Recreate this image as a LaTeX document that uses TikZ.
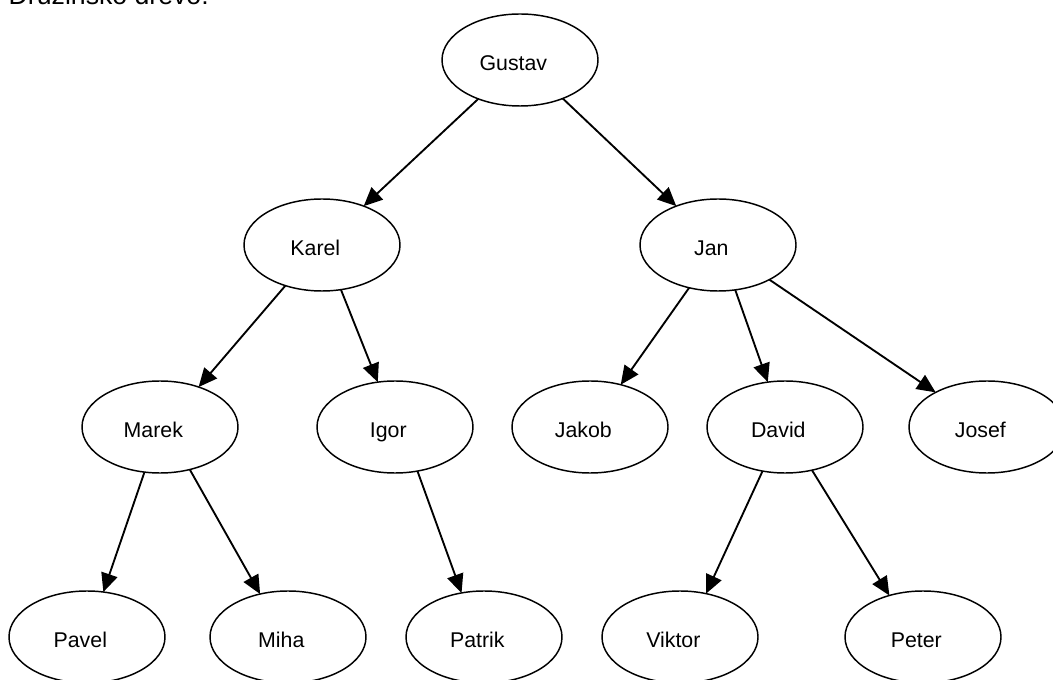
\documentclass[tikz,border=0pt]{standalone}
\usepackage{fontspec}
\setmainfont{Liberation Sans}
\usetikzlibrary{arrows.meta,shapes.geometric}

\begin{document}
\begin{tikzpicture}[x=0.75pt,y=-0.75pt,
   person/.style={draw=black,line width=1.1pt,ellipse,minimum width=117pt,minimum height=69pt,
     inner sep=0pt,outer sep=0pt,font=\fontsize{16}{19}\selectfont,
     text height=16pt,text depth=0pt,execute at begin node=\kern-10pt},
   child/.style={draw=black,line width=1.4pt,-{Triangle[length=14pt,width=12.5pt]}}]
   \useasboundingbox (0,0) rectangle (1053,680);
   \node[anchor=base west,font=\fontsize{20}{24}\selectfont] (title) at (4,5) {Družinsko drevo:};
   % generations
   \node[person] (gustav) at (520,60) {Gustav};
   \node[person] (karel) at (322,245) {Karel};
   \node[person] (jan) at (718,245) {Jan};
   \node[person] (marek) at (160,427) {Marek};
   \node[person] (igor) at (395,427) {Igor};
   \node[person] (jakob) at (590,427) {Jakob};
   \node[person] (david) at (785,427) {David};
   \node[person] (josef) at (987,427) {Josef};
   \node[person] (pavel) at (87,637) {Pavel};
   \node[person] (miha) at (288,637) {Miha};
   \node[person] (patrik) at (484,637) {Patrik};
   \node[person] (viktor) at (680,637) {Viktor};
   \node[person] (peter) at (923,637) {Peter};
   % links
   \draw[child] (gustav.223) -- (karel.43);
   \draw[child] (gustav.318) -- (jan.137);
   \draw[child] (karel.228) -- (marek.46);
   \draw[child] (karel.293) -- (igor.111);
   \draw[child] (jan.236) -- (jakob.54);
   \draw[child] (jan.291) -- (david.111);
   \draw[child] (jan.326) -- (josef.146);
   \draw[child] (marek.251) -- (pavel.70);
   \draw[child] (marek.305) -- (miha.123);
   \draw[child] (igor.297) -- (patrik.117);
   \draw[child] (david.243) -- (viktor.59);
   \draw[child] (david.302) -- (peter.129);
\end{tikzpicture}
\end{document}
